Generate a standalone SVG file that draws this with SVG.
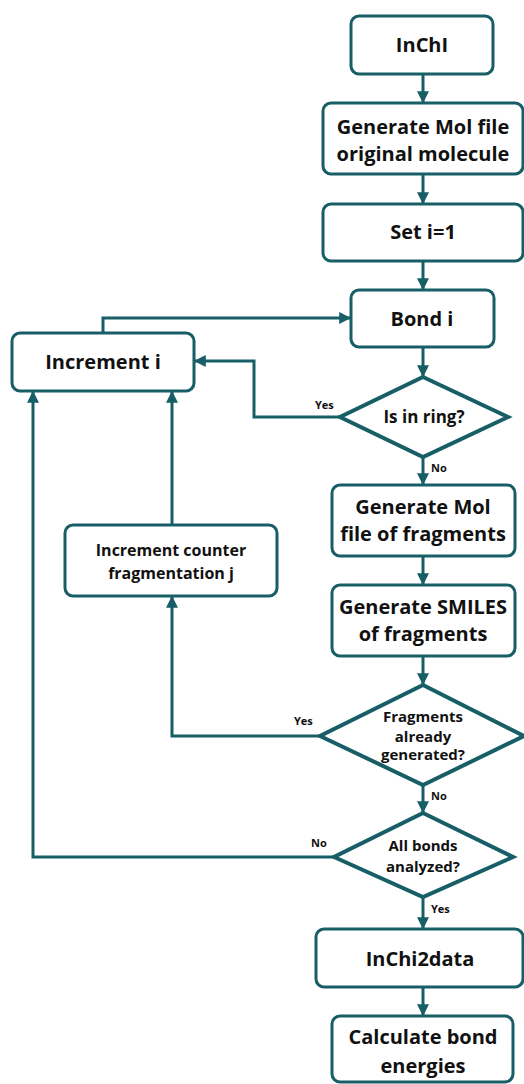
<svg xmlns="http://www.w3.org/2000/svg" width="524" height="1084" viewBox="0 0 524 1084">
<style>
.box{fill:#fff;stroke:#175e66;stroke-width:3}
.dia{fill:#fff;stroke:#175e66;stroke-width:4;stroke-linejoin:miter}
.t{font-family:"Open Sans","Liberation Sans",sans-serif;font-weight:700;font-size:20px;fill:#111;text-anchor:middle}
.s{font-family:"Open Sans","Liberation Sans",sans-serif;font-weight:700;font-size:16px;fill:#111;text-anchor:middle}
.d{font-family:"Open Sans","Liberation Sans",sans-serif;font-weight:700;font-size:17px;fill:#111;text-anchor:middle}
.f{font-family:"Open Sans","Liberation Sans",sans-serif;font-weight:700;font-size:15px;fill:#111;text-anchor:middle}
.l{font-family:"Open Sans","Liberation Sans",sans-serif;font-weight:700;font-size:11px;fill:#111}
.c{fill:none;stroke:#175e66;stroke-width:3;marker-end:url(#ah)}
</style>
<defs>
<marker id="ah" markerUnits="userSpaceOnUse" markerWidth="12" markerHeight="12" viewBox="0 0 10 10" refX="9" refY="5" orient="auto">
<path d="M0,0 L10,5 L0,10 z" fill="#175e66"/>
</marker>
</defs>
<g id="connectors">
<path class="c" d="M423,75 V102"/>
<path class="c" d="M423,175 V203"/>
<path class="c" d="M423,262 V289"/>
<path class="c" d="M423,348 V376"/>
<path class="c" d="M423,458 V484"/>
<path class="c" d="M423,557 V584"/>
<path class="c" d="M423,657 V684"/>
<path class="c" d="M423,786 V812"/>
<path class="c" d="M423,898 V928"/>
<path class="c" d="M423,988 V1015"/>
<path class="c" d="M103,333 V318 H350"/>
<path class="c" d="M340,417 H254 V361 H195"/>
<path class="c" d="M172,525 V392"/>
<path class="c" d="M320,736 H172 V597"/>
<path class="c" d="M334,857 H33 V392"/>
<text class="l" x="315" y="409">Yes</text>
<text class="l" x="431" y="472">No</text>
<text class="l" x="294" y="725">Yes</text>
<text class="l" x="431" y="800">No</text>
<text class="l" x="311" y="847">No</text>
<text class="l" x="431" y="913">Yes</text>
</g>
<g id="inchi"><rect class="box" x="351" y="16" width="142" height="58" rx="8"/><text class="t" x="422" y="52">InChI</text></g>
<g id="genmol"><rect class="box" x="323" y="103" width="200" height="71" rx="8"/><text class="t" x="423" y="134">Generate Mol file</text><text class="t" x="423" y="161">original molecule</text></g>
<g id="seti"><rect class="box" x="323" y="204" width="200" height="57" rx="8"/><text class="t" x="423" y="239">Set i=1</text></g>
<g id="bondi"><rect class="box" x="351" y="290" width="143" height="57" rx="8"/><text class="t" x="422" y="326">Bond i</text></g>
<g id="incri"><rect class="box" x="12" y="333" width="182" height="58" rx="8"/><text class="t" x="103" y="369">Increment i</text></g>
<g id="isring"><polygon class="dia" points="423,377 508,417 423,457 340,417"/><text class="d" x="424" y="423">Is in ring?</text></g>
<g id="genfrag"><rect class="box" x="332" y="485" width="183" height="71" rx="8"/><text class="t" x="423" y="514">Generate Mol</text><text class="t" x="423" y="541">file of fragments</text></g>
<g id="counter"><rect class="box" x="65" y="525" width="212" height="71" rx="8"/><text class="s" x="171" y="556">Increment counter</text><text class="s" x="171" y="579">fragmentation j</text></g>
<g id="smiles"><rect class="box" x="332" y="585" width="183" height="71" rx="8"/><text class="t" x="423" y="614">Generate SMILES</text><text class="t" x="423" y="641">of fragments</text></g>
<g id="fragdone"><polygon class="dia" points="423,685 524,736 423,785 320,736"/><text class="f" x="423" y="722">Fragments</text><text class="f" x="423" y="742">already</text><text class="f" x="423" y="760">generated?</text></g>
<g id="allbonds"><polygon class="dia" points="423,813 513,857 423,897 334,857"/><text class="f" x="423" y="851">All bonds</text><text class="f" x="423" y="872">analyzed?</text></g>
<g id="inchi2data"><rect class="box" x="316" y="929" width="207" height="58" rx="8"/><text class="t" x="420" y="966">InChi2data</text></g>
<g id="calc"><rect class="box" x="332" y="1016" width="181" height="66" rx="8"/><text class="t" x="423" y="1044">Calculate bond</text><text class="t" x="423" y="1073">energies</text></g>
</svg>
